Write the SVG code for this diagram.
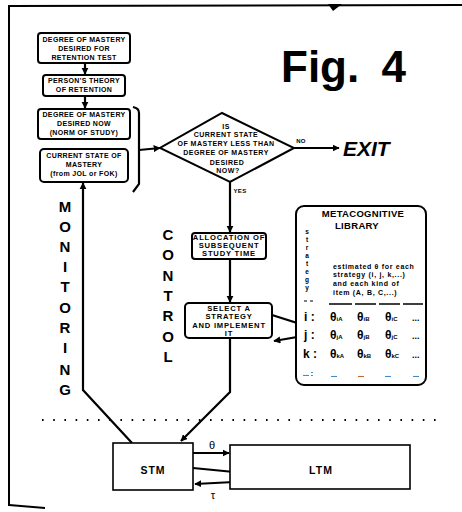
<svg xmlns="http://www.w3.org/2000/svg" width="462" height="512" viewBox="0 0 462 512">
<defs>
<marker id="ah" viewBox="0 0 10 10" refX="9" refY="5" markerWidth="3.2" markerHeight="3.2" orient="auto" markerUnits="strokeWidth">
<path d="M0,0 L10,5 L0,10 z" fill="#000"/>
</marker>
<style>
.box{fill:#fff;stroke:#000;stroke-width:2}
.ln{fill:none;stroke:#000;stroke-width:2.2}
.t{font-family:"Liberation Sans",Arial,sans-serif;font-weight:bold;font-size:7px;letter-spacing:0.35px;text-anchor:middle;fill:#000}
.d{font-size:7px;letter-spacing:0.5px}
.m{font-size:7.6px;letter-spacing:0.8px}
.lbl{font-size:6px;letter-spacing:0.3px}
.mem{font-size:10.5px;letter-spacing:1px}
.big{font-family:"Liberation Sans",Arial,sans-serif;font-weight:bold;font-size:15px;text-anchor:middle;fill:#000}
.lib{font-family:"Liberation Sans",Arial,sans-serif;font-weight:bold;fill:#000}
.th{font-family:"Liberation Sans",Arial,sans-serif;font-weight:bold;font-size:12px;fill:#000}
.sub{font-size:6px}
</style>
</defs>
<rect width="462" height="512" fill="#fff"/>

<g id="frame">
<path d="M9,506 L9,6 L462,5" fill="none" stroke="#000" stroke-width="2"/>
<path d="M9,505 L45,508" fill="none" stroke="#000" stroke-width="2"/>
<path d="M328,4 L342,4 L333,11 z" fill="#000"/>
<path d="M42,420 L440,420" fill="none" stroke="#000" stroke-width="2" stroke-dasharray="1.6 9.6"/>
</g>

<g id="title">
<text x="281" y="82" font-family="'Liberation Sans',Arial,sans-serif" font-weight="bold" font-size="44" word-spacing="10">Fig. 4</text>
</g>

<g id="connectors">
<path class="ln" d="M85,63 L85,74" marker-end="url(#ah)"/>
<path class="ln" d="M85,96 L85,108" marker-end="url(#ah)"/>
<path class="ln" d="M133,107 Q139,108 139,113 L139,184 L133,192"/>
<path class="ln" d="M139,150 L160,148" marker-end="url(#ah)"/>
<path class="ln" d="M294,148 L339,148" marker-end="url(#ah)"/>
<path class="ln" d="M230,182 L230,232" marker-end="url(#ah)"/>
<path class="ln" d="M230,259 L230,302" marker-end="url(#ah)"/>
<path class="ln" d="M272,315 L297,323 Q304,330 297,337 L274,341" marker-end="url(#ah)"/>
<path class="ln" d="M230,338 L230,392 L181,441" marker-end="url(#ah)"/>
<path class="ln" d="M132,443 L83,390 L83,183" marker-end="url(#ah)"/>
<path class="ln" d="M193,453 L229,453" marker-end="url(#ah)"/>
<path class="ln" d="M193,468 L234,472 Q243,477 234,482 L195,484" marker-end="url(#ah)"/>
<text x="301" y="143" class="t lbl">NO</text>
<text x="240" y="193" class="t lbl">YES</text>
<text x="212" y="449" font-family="'Liberation Sans',Arial,sans-serif" font-size="11" text-anchor="middle">θ</text>
<text x="213" y="499" font-family="'Liberation Sans',Arial,sans-serif" font-size="11" text-anchor="middle">τ</text>
</g>

<g id="exit">
<text x="343" y="156" font-family="'Liberation Sans',Arial,sans-serif" font-weight="bold" font-style="italic" font-size="21">EXIT</text>
</g>

<g id="box1">
<rect class="box" x="38" y="33" width="92" height="30" rx="3"/>
<text class="t" x="84" y="42">DEGREE OF MASTERY</text>
<text class="t" x="84" y="50.5">DESIRED FOR</text>
<text class="t" x="84" y="59.5">RETENTION TEST</text>
</g>

<g id="box2">
<rect class="box" x="43" y="75" width="82" height="21" rx="3"/>
<text class="t" x="84" y="83">PERSON'S THEORY</text>
<text class="t" x="84" y="92">OF RETENTION</text>
</g>

<g id="box3">
<rect class="box" x="38" y="109" width="92" height="30" rx="3"/>
<text class="t" x="84" y="116.5">DEGREE OF MASTERY</text>
<text class="t" x="84" y="125.5">DESIRED NOW</text>
<text class="t" x="84" y="134.5">(NORM OF STUDY)</text>
</g>

<g id="box4">
<rect class="box" x="40" y="149" width="88" height="33" rx="4"/>
<text class="t" x="84" y="158">CURRENT STATE OF</text>
<text class="t" x="84" y="166.5">MASTERY</text>
<text class="t" x="84" y="176">(from JOL or FOK)</text>
</g>

<g id="decision">
<path class="box" d="M222,113 L294,148 L230,182 L160,148 z"/>
<text class="t d" x="226" y="128.5">IS</text>
<text class="t d" x="226" y="136.5">CURRENT STATE</text>
<text class="t d" x="226" y="145.5">OF MASTERY LESS THAN</text>
<text class="t d" x="226" y="154.5">DEGREE OF MASTERY</text>
<text class="t d" x="227" y="164.5">DESIRED</text>
<text class="t d" x="228" y="172.5">NOW?</text>
</g>

<g id="allocation">
<rect class="box" x="192" y="233" width="74" height="26" rx="3"/>
<text class="t m" x="229" y="240">ALLOCATION OF</text>
<text class="t m" x="229" y="248">SUBSEQUENT</text>
<text class="t m" x="229" y="256">STUDY TIME</text>
</g>

<g id="select">
<rect class="box" x="185" y="303" width="87" height="35" rx="4"/>
<text class="t m" x="229" y="311">SELECT A</text>
<text class="t m" x="229" y="319">STRATEGY</text>
<text class="t m" x="229" y="328">AND IMPLEMENT</text>
<text class="t m" x="229" y="336">IT</text>
</g>

<g id="monitoring">
<text class="big" x="65" y="212">M</text>
<text class="big" x="65" y="232">O</text>
<text class="big" x="65" y="252">N</text>
<text class="big" x="65" y="272">I</text>
<text class="big" x="65" y="292">T</text>
<text class="big" x="65" y="313">O</text>
<text class="big" x="65" y="333">R</text>
<text class="big" x="65" y="353">I</text>
<text class="big" x="65" y="375">N</text>
<text class="big" x="65" y="395">G</text>
</g>

<g id="control">
<text class="big" x="168" y="240">C</text>
<text class="big" x="168" y="260">O</text>
<text class="big" x="168" y="281">N</text>
<text class="big" x="168" y="301">T</text>
<text class="big" x="168" y="321">R</text>
<text class="big" x="168" y="342">O</text>
<text class="big" x="168" y="362">L</text>
</g>

<g id="library">
<rect class="box" x="296" y="206" width="130" height="179" rx="8"/>
<text class="lib" x="363" y="217" font-size="9.5" letter-spacing="0.3" text-anchor="middle">METACOGNITIVE</text>
<text class="lib" x="357" y="229" font-size="9.5" letter-spacing="0.3" text-anchor="middle">LIBRARY</text>
<g class="lib" font-size="6.5" text-anchor="middle">
<text x="307" y="234">s</text>
<text x="307" y="242">t</text>
<text x="307" y="250">r</text>
<text x="307" y="258">a</text>
<text x="307" y="266">t</text>
<text x="307" y="274">e</text>
<text x="307" y="282">g</text>
<text x="307" y="290">y</text>
</g>
<g class="lib" font-size="7" letter-spacing="0.7">
<text x="333" y="269">estimated θ for each</text>
<text x="333" y="277">strategy (i, j, k,...)</text>
<text x="333" y="285.5">and each kind of</text>
<text x="333" y="294.5">item (A, B, C,...)</text>
</g>
<path d="M304,301 L307,301 M310,301 L313,301" stroke="#000" stroke-width="1.2"/>
<path d="M329,304 L352,304 M355,304 L376,304 M379,304 L400,304 M403,304 L423,304" stroke="#000" stroke-width="1.3"/>
<g class="th">
<text x="304" y="321">i :</text>
<text x="304" y="339">j :</text>
<text x="303" y="358">k :</text>
<text x="330" y="321">θ<tspan class="sub">iA</tspan></text>
<text x="357" y="321">θ<tspan class="sub">iB</tspan></text>
<text x="385" y="321">θ<tspan class="sub">iC</tspan></text>
<text x="412" y="321" font-size="9">...</text>
<text x="330" y="339">θ<tspan class="sub">jA</tspan></text>
<text x="357" y="339">θ<tspan class="sub">jB</tspan></text>
<text x="385" y="339">θ<tspan class="sub">jC</tspan></text>
<text x="412" y="339" font-size="9">...</text>
<text x="330" y="358">θ<tspan class="sub">kA</tspan></text>
<text x="357" y="358">θ<tspan class="sub">kB</tspan></text>
<text x="385" y="358">θ<tspan class="sub">kC</tspan></text>
<text x="412" y="358" font-size="9">...</text>
<text x="303" y="376" font-size="7">... :</text>
<text x="331" y="377" font-size="7">...</text>
<text x="358" y="377" font-size="7">...</text>
<text x="385" y="377" font-size="7">...</text>
<text x="413" y="377" font-size="7">...</text>
</g>
</g>

<g id="stm">
<rect x="113" y="443" width="80" height="47" fill="#fff" stroke="#000" stroke-width="1.6"/>
<text class="t mem" x="153" y="474">STM</text>
</g>
<g id="ltm">
<rect x="230" y="445" width="180" height="44" fill="#fff" stroke="#000" stroke-width="1.6"/>
<text class="t mem" x="321" y="474">LTM</text>
</g>
</svg>
